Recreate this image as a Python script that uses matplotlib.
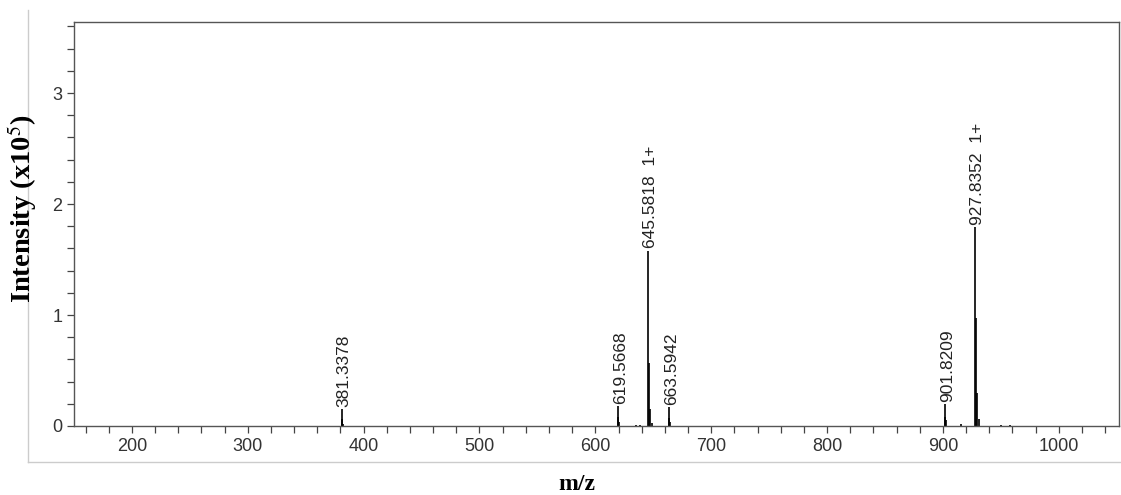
import matplotlib.pyplot as plt
from matplotlib.ticker import MultipleLocator
from matplotlib.lines import Line2D

plt.rcParams['mathtext.fontset'] = 'stix'

# centroid peaks (m/z, intensity in 1e5 counts); extra points give the peak bodies
mz = [381.3378, 381.7, 382.34, 619.5668, 619.9, 620.57, 635.5, 638.6,
      645.5818, 646.585, 647.59, 648.59,
      663.5942, 663.95, 664.60, 901.8209, 902.2, 902.82, 915.8,
      927.8352, 928.84, 929.84, 930.84, 950.5, 958.0]
intensity = [0.15, 0.06, 0.02, 0.18, 0.08, 0.04, 0.012, 0.012,
             1.58, 0.57, 0.15, 0.03,
             0.17, 0.07, 0.04, 0.20, 0.08, 0.05, 0.015,
             1.79, 0.97, 0.30, 0.06, 0.01, 0.01]

# annotated peaks
label_mz = [381.3378, 619.5668, 645.5818, 663.5942, 901.8209, 927.8352]
label_int = [0.15, 0.18, 1.58, 0.17, 0.20, 1.79]
label_text = ['381.3378', '619.5668', '645.5818  1+', '663.5942', '901.8209', '927.8352  1+']

fig = plt.figure(figsize=(11.21, 4.95), dpi=100)
ax = fig.add_axes([74 / 1121, 1 - 426 / 495, 1045 / 1121, 404 / 495])

ax.vlines(mz, 0, intensity, color='black', lw=1.2)

for x, y, t in zip(label_mz, label_int, label_text):
    ax.text(x + 2, y + 0.02, t, rotation=90, ha='center', va='bottom',
            fontsize=12.5, family='Liberation Sans', color='#222222')

ax.set_xlim(150, 1052)
ax.set_ylim(0, 3.64)
ax.xaxis.set_major_locator(MultipleLocator(100))
ax.xaxis.set_minor_locator(MultipleLocator(20))
ax.yaxis.set_major_locator(MultipleLocator(1))
ax.yaxis.set_minor_locator(MultipleLocator(0.2))
ax.tick_params(which='both', direction='out', length=5, width=0.9, color='#444444',
               labelsize=13, labelcolor='#333333')
for lbl in ax.get_xticklabels() + ax.get_yticklabels():
    lbl.set_family('Liberation Sans')
for sp in ax.spines.values():
    sp.set_color('#555555')
    sp.set_linewidth(1.0)

fig.text(22 / 1121, 1 - 209 / 495, r'Intensity (x10$^{5}$)', family='Liberation Serif',
         fontweight='bold', fontsize=20.5, rotation=90, ha='center', va='center')
fig.text(577 / 1121, 1 - 484 / 495, 'm/z', family='Liberation Serif', fontweight='bold',
         fontsize=17, ha='center', va='center')

# light outer frame
fig.add_artist(Line2D([28 / 1121, 28 / 1121], [1 - 462 / 495, 1 - 10 / 495],
                      transform=fig.transFigure, color='#cccccc', lw=1))
fig.add_artist(Line2D([28 / 1121, 1.0], [1 - 462 / 495, 1 - 462 / 495],
                      transform=fig.transFigure, color='#cccccc', lw=1))

fig.savefig('out.png', dpi=100)
